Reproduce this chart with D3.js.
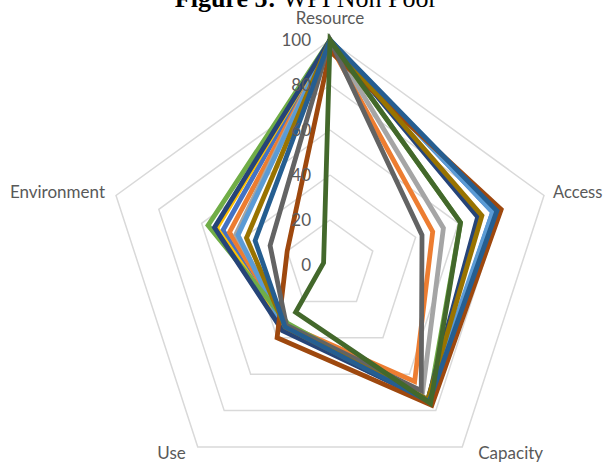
<!DOCTYPE html>
<html>
<head>
<meta charset="utf-8">
<script src="https://cdn.jsdelivr.net/npm/d3@7"></script>
<style>
  html, body { margin: 0; padding: 0; background: #fff; }
  svg { display: block; }
</style>
</head>
<body>
<svg id="chart" width="604" height="462"></svg>
<script>
const axes = ["Resource", "Access", "Capacity", "Use", "Environment"];
const ticks = [0, 20, 40, 60, 80, 100];
const seriesNames = ["S1","S2","S3","S4","S5","S6","S7","S8","S9","S10","S11","S12"];
const colors = ["#4472C4","#ED7D31","#A5A5A5","#FFC000","#5B9BD5","#70AD47","#264478","#9E480E","#636363","#997300","#255E91","#43682B"];
const s1  = [100, 76, 75, 35, 50];
const s2  = [98, 48, 64, 33, 47];
const s3  = [100, 53, 70, 33, 44];
const s4  = [100, 70, 74, 34, 53];
const s5  = [100, 76, 74, 35, 43];
const s6  = [100, 61, 75, 32, 57];
const s7  = [100, 69, 74, 36, 54];
const s8  = [95, 80, 77, 40, 20];
const s9  = [100, 43, 69, 33, 28];
const s10 = [100, 71, 74, 34, 39];
const s11 = [100, 78, 75, 34, 35];
const s12 = [100, 61, 76, 26, 3];
const seriesValues = [s1,s2,s3,s4,s5,s6,s7,s8,s9,s10,s11,s12];

const svg = d3.select("#chart");
const cx = 330, cy = 265, R = 225;
const r = d3.scaleLinear().domain([0, 100]).range([0, R]);
const ang = d3.scalePoint().domain(axes).range([0, 2 * Math.PI * (axes.length - 1) / axes.length]);
const pt = (a, v) => [cx + r(v) * Math.sin(ang(a)), cy - r(v) * Math.cos(ang(a))];

// grid rings
const ringLine = d3.line();
ticks.filter(t => t > 0).forEach(t => {
  const pts = axes.map(a => pt(a, t));
  pts.push(pts[0]);
  svg.append("path").attr("d", ringLine(pts))
    .attr("fill", "none").attr("stroke", "#D9D9D9").attr("stroke-width", 1.5);
});

// series
const radial = d3.line().curve(d3.curveLinearClosed);
seriesValues.forEach((vals, i) => {
  const pts = axes.map((a, j) => pt(a, vals[j]));
  svg.append("path").attr("d", radial(pts))
    .attr("fill", "none").attr("stroke", colors[i])
    .attr("stroke-width", 4.8).attr("stroke-linejoin", "miter");
});

// value labels
ticks.forEach(t => {
  svg.append("text").attr("x", cx - 19).attr("y", cy - r(t))
    .attr("dy", "0.35em").attr("text-anchor", "end")
    .attr("font-family", "Lato, 'Open Sans', sans-serif").attr("font-size", 17)
    .attr("fill", "#595959").text(t);
});

// category labels
const labelPos = {
  "Resource": {dx: 0, dy: -22, anchor: "middle"},
  "Access": {dx: 9, dy: -3, anchor: "start"},
  "Capacity": {dx: 16, dy: 6, anchor: "start"},
  "Use": {dx: -12, dy: 6, anchor: "end"},
  "Environment": {dx: -11, dy: -3, anchor: "end"}
};
axes.forEach(a => {
  const p = pt(a, 100), o = labelPos[a];
  svg.append("text").attr("x", p[0] + o.dx).attr("y", p[1] + o.dy)
    .attr("dy", "0.35em").attr("text-anchor", o.anchor)
    .attr("font-family", "Lato, 'Open Sans', sans-serif").attr("font-size", a === "Access" ? 16.5 : 17)
    .attr("fill", "#595959").text(a);
});

// title (cut at top)
const title = svg.append("text").attr("x", 306).attr("y", 7)
  .attr("text-anchor", "middle")
  .attr("font-family", "'Liberation Serif', 'Times New Roman', serif")
  .attr("font-size", 26).attr("fill", "#000");
title.append("tspan").attr("font-weight", "bold").text("Figure 5: ");
title.append("tspan").text("WPI Non Poor");
</script>
</body>
</html>
